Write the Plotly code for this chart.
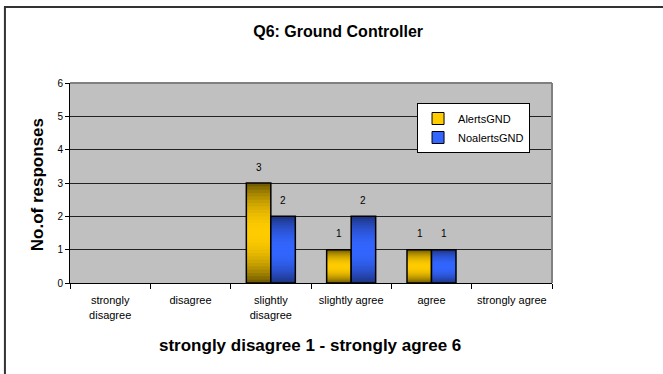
import math
import plotly.graph_objects as go

categories = ["strongly<br>disagree", "disagree", "slightly<br>disagree",
              "slightly agree", "agree", "strongly agree"]
series_names = ["AlertsGND", "NoalertsGND"]
alerts_gnd = [None, None, 3, 1, 1, None]
noalerts_gnd = [None, None, 2, 2, 1, None]
y_ticks = [0, 1, 2, 3, 4, 5, 6]

series = [
    (series_names[0], alerts_gnd, (0x66, 0x52, 0x00), (0xFF, 0xCC, 0x00), "#FFCC00", "A"),
    (series_names[1], noalerts_gnd, (0x1C, 0x30, 0x78), (0x33, 0x66, 0xFF), "#3366FF", "B"),
]

FONT = "Liberation Sans, Arial"
N = 30
fig = go.Figure()
for name, vals, dark, bright, solid, grp in series:
    # gradient slices (vertical shading within each bar), slightly overlapping to hide seams
    for k in range(N):
        t = (k + 0.5) / N
        m = math.sin(math.pi * t) ** 0.8
        c = tuple(int(dark[i] + (bright[i] - dark[i]) * m) for i in range(3))
        f = 1.0 if k == N - 1 else 1.8
        ys = [None if v is None else v * f / N for v in vals]
        bs = [0 if v is None else v * k / N for v in vals]
        fig.add_trace(go.Bar(x=categories, y=ys, base=bs, offsetgroup=grp,
                             marker=dict(color="rgb(%d,%d,%d)" % c, line=dict(width=0)),
                             showlegend=False, hoverinfo="skip"))
    # outline
    fig.add_trace(go.Bar(x=categories, y=vals, offsetgroup=grp,
                         marker=dict(color="rgba(0,0,0,0)", line=dict(color="black", width=1.5)),
                         showlegend=False))
    # legend entry
    fig.add_trace(go.Bar(x=categories, y=[None] * len(categories), offsetgroup=grp, name=name,
                         marker=dict(color=solid, line=dict(color="black", width=1))))

# value labels
for j, (name, vals, dark, bright, solid, grp) in enumerate(series):
    shift = -12 if j == 0 else 12
    for cat, v in zip(categories, vals):
        if v is None:
            continue
        fig.add_annotation(x=cat, y=v, text=str(v), showarrow=False, xshift=shift, yshift=16,
                           font=dict(family=FONT, size=10, color="black"))

fig.add_annotation(xref="paper", yref="paper", x=0.498, y=-0.31, showarrow=False,
                   xanchor="center", yanchor="middle",
                   text="<b>strongly disagree 1 - strongly agree 6</b>",
                   font=dict(family=FONT, size=17, color="black"))
fig.add_annotation(xref="paper", yref="paper", x=-0.068, y=0.49, showarrow=False,
                   xanchor="center", yanchor="middle", textangle=-90,
                   text="<b>No.of responses</b>",
                   font=dict(family=FONT, size=17, color="black"))

# outer frame
fig.add_shape(type="rect", xref="paper", yref="paper", x0=-0.135, y0=-2, x1=2, y1=1.38,
              line=dict(color="#333333", width=2), fillcolor="rgba(0,0,0,0)", layer="below")
# plot area top/right border
fig.add_shape(type="line", xref="paper", yref="paper", x0=0, x1=1, y0=1, y1=1,
              line=dict(color="#808080", width=2))
fig.add_shape(type="line", xref="paper", yref="paper", x0=1, x1=1, y0=0, y1=1,
              line=dict(color="#808080", width=2))

fig.update_layout(
    width=663, height=374,
    margin=dict(l=70, r=111, t=83, b=91),
    paper_bgcolor="white", plot_bgcolor="#C0C0C0",
    barmode="group", bargap=0.39, bargroupgap=0,
    font=dict(family=FONT, size=10, color="black"),
    title=dict(text="<b>Q6: Ground Controller</b>", x=0.51, xanchor="center",
               y=1 - 31 / 374, yanchor="middle", yref="container",
               font=dict(family=FONT, size=16, color="black")),
    legend=dict(x=0.72, y=0.9, xanchor="left", yanchor="top",
                bgcolor="white", bordercolor="black", borderwidth=1,
                font=dict(size=11), itemwidth=30),
    showlegend=True,
)
fig.update_xaxes(type="category", showline=True, linecolor="black", linewidth=1,
                 ticks="outside", tickson="boundaries", ticklen=5, tickcolor="black",
                 showgrid=False, tickfont=dict(size=11), ticklabelstandoff=7,
                 range=[-0.5, 5.5])
fig.update_yaxes(range=[0, 6], tickvals=y_ticks, showline=True, linecolor="black", linewidth=1,
                 ticks="outside", ticklen=4, tickcolor="black", showgrid=True,
                 gridcolor="#222222", gridwidth=1, zeroline=False, tickfont=dict(size=10))

fig.write_html("out.html", config={"displayModeBar": False},
               post_script="document.body.style.margin='0';")
